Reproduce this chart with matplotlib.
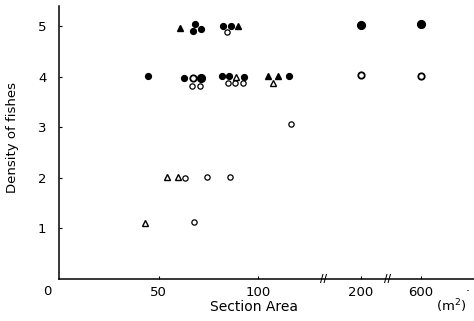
import numpy as np
import matplotlib
matplotlib.use("Agg")
import matplotlib.pyplot as plt
import matplotlib.transforms as mtransforms

# data (section area in m2, density of fishes)
filled_circle_x = [67.2, 68.2, 71.4, 82.5, 86.5, 44.4, 62.9, 81.9, 85.5, 92.7, 115.2]
filled_circle_y = [4.90, 5.04, 4.94, 5.00, 5.00, 4.01, 3.97, 4.01, 4.01, 3.99, 4.01]
open_circle_x = [84.5, 66.9, 70.5, 84.7, 88.4, 92.2, 116.2, 63.0, 74.4, 85.7, 67.7]
open_circle_y = [4.88, 3.81, 3.81, 3.87, 3.87, 3.87, 3.07, 2.00, 2.02, 2.02, 1.13]
filled_tri_x = [60.5, 89.9, 104.7, 109.7]
filled_tri_y = [4.96, 5.00, 4.01, 4.01]
open_tri_x = [88.9, 107.5, 54.0, 59.5, 42.9]
open_tri_y = [3.99, 3.87, 2.02, 2.02, 1.11]
big_filled_x = [71.4, 200, 600]
big_filled_y = [3.97, 5.02, 5.04]
big_open_x = [67.2, 200, 600]
big_open_y = [3.97, 4.03, 4.02]

xtick_vals = [50, 100, 200, 600]
xtick_labels = ["50", "100", "200", "600"]
ytick_vals = [1, 2, 3, 4, 5]

# broken x axis: linear to 130, then compressed pieces for 200 and 600
XS = [-100, 0, 130, 200, 600, 2000]
PS = [-100, 0, 130, 151.5, 181.6, 181.6 + 1400 * 30.1 / 400]


def fwd(x):
    return np.interp(x, XS, PS)


def inv(p):
    return np.interp(p, PS, XS)


plt.rcParams["font.family"] = "DejaVu Sans"
fig = plt.figure(figsize=(4.74, 3.21), dpi=100)
ax = fig.add_axes([59 / 474, 1 - 279 / 321, 1 - 59 / 474, 273 / 321])
ax.set_xscale("function", functions=(fwd, inv))
ax.set_xlim(0, 953)
ax.set_ylim(0, 5.40)

ax.plot(filled_circle_x, filled_circle_y, "o", ms=4.2, color="black", mec="black")
ax.plot(big_filled_x, big_filled_y, "o", ms=5.6, color="black", mec="black")
ax.plot(open_circle_x, open_circle_y, "o", ms=3.8, mfc="white", mec="black", mew=0.9)
ax.plot(big_open_x, big_open_y, "o", ms=4.6, mfc="white", mec="black", mew=1.3)
ax.plot(filled_tri_x, filled_tri_y, "^", ms=4.3, color="black")
ax.plot(open_tri_x, open_tri_y, "^", ms=4.0, mfc="white", mec="black", mew=1.0)

for side in ["top", "right"]:
    ax.spines[side].set_visible(False)
for side in ["left", "bottom"]:
    ax.spines[side].set_linewidth(1.1)

ax.set_xticks(xtick_vals)
ax.set_xticklabels(xtick_labels)
ax.set_yticks(ytick_vals)
ax.xaxis.set_minor_locator(matplotlib.ticker.NullLocator())
ax.tick_params(direction="in", length=2.5, width=0.8, labelsize=9.5)
ax.tick_params(axis="x", pad=5)
ax.tick_params(axis="y", pad=9)

ax.text(-0.027, -0.045, "0", transform=ax.transAxes, fontsize=9.5,
        ha="center", va="center")
ax.text(0.47, -0.103, "Section Area", transform=ax.transAxes, fontsize=10,
        ha="center", va="center")
ax.text(0.945, -0.1, "(m$^2$)", transform=ax.transAxes, fontsize=9.5,
        ha="center", va="center")
ax.text(0.985, -0.03, ".", transform=ax.transAxes, fontsize=9,
        ha="center", va="center")
ax.text(-0.113, 0.52, "Density of fishes", transform=ax.transAxes,
        fontsize=9.5, rotation=90, ha="center", va="center")

# axis break marks
trans = mtransforms.blended_transform_factory(ax.transData, ax.transAxes)
for bx in [138, 375]:
    ax.text(bx, 0.0, "//", transform=trans, fontsize=7, fontweight="bold",
            ha="center", va="center", clip_on=False)

fig.savefig("out.png", dpi=100)
